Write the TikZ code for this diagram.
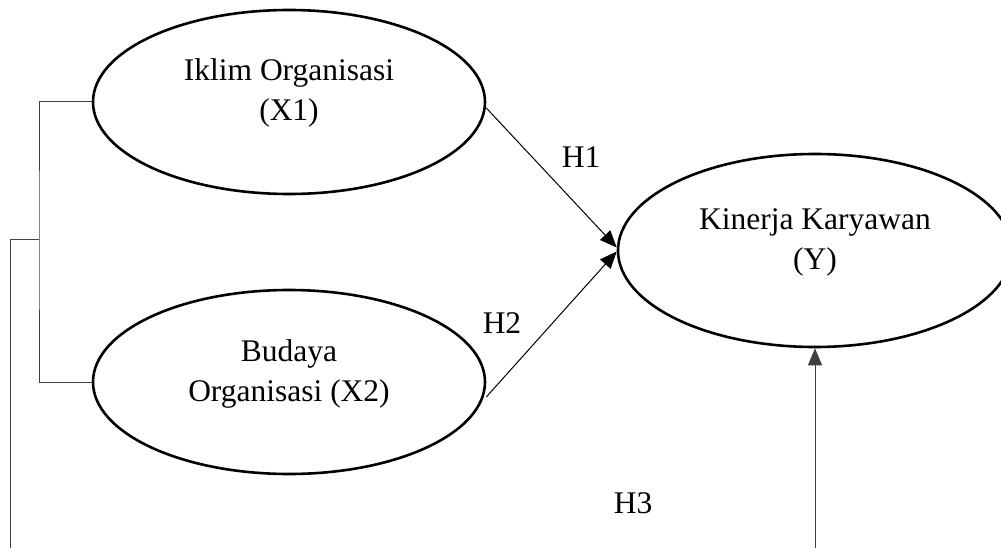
\documentclass[tikz,border=0pt]{standalone}
\usepackage{fontspec}
\setmainfont{Liberation Serif}
\usetikzlibrary{arrows.meta,shapes.geometric}
\newcommand{\twoline}[2]{\raisebox{9pt}[\height][\depth]{\begin{tabular}{@{}c@{}}#1\\#2\end{tabular}}}
\begin{document}
\begin{tikzpicture}[x=1pt,y=-1pt,
  latent/.style={draw, ellipse, line width=2.6pt, inner sep=0pt, align=center,
    font=\fontsize{31.5}{40}\selectfont},
  link/.style={line width=1pt, draw=black!75},
  effect/.style={line width=1pt, -{Triangle[length=17pt,width=14pt]}},
  hlab/.style={font=\fontsize{31.5}{40}\selectfont, inner sep=0pt}]
\useasboundingbox (0,0) rectangle (1001,548);
\node[latent, minimum width=392pt, minimum height=184pt] (ikl) at (289,102) {\twoline{Iklim Organisasi}{(X1)}};
\node[latent, minimum width=392pt, minimum height=184pt] (bud) at (289,382) {\twoline{Budaya}{Organisasi (X2)}};
\node[latent, minimum width=394pt, minimum height=193pt] (kin) at (815,250.5) {\twoline{Kinerja Karyawan}{(Y)}};
\coordinate (j) at (39,239);
\coordinate (lb) at (10,548);
\coordinate (rb) at (815,548);
\draw[link] (ikl.west) -| (j) |- (bud.west);
\draw[link] (j) -| (lb);
\draw[effect] ([yshift=-6pt]ikl.east) -- ([yshift=3pt]kin.west);
\draw[effect] ([yshift=-15pt]bud.east) -- ([yshift=-1pt]kin.west);
\draw[effect, draw=black!75] (rb) -- (kin.south);
\node[hlab] (h1) at (581,157) {H1};
\node[hlab] (h2) at (502,323) {H2};
\node[hlab] (h3) at (633,503) {H3};
\end{tikzpicture}
\end{document}
